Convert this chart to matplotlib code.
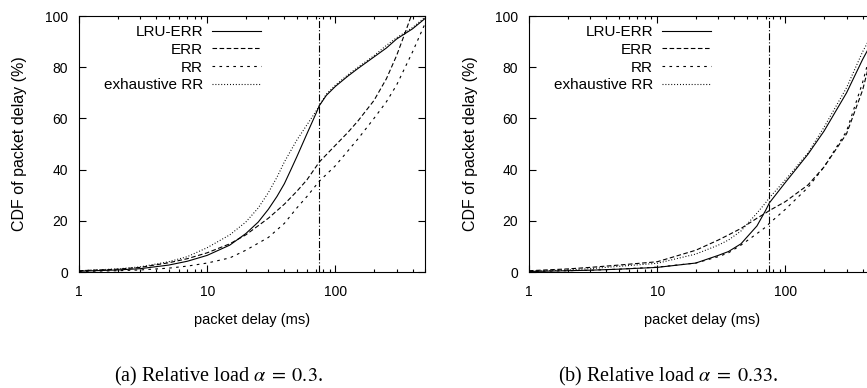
import matplotlib
matplotlib.use('Agg')
import matplotlib.pyplot as plt

plt.rcParams['font.family'] = ['Liberation Sans', 'DejaVu Sans']
plt.rcParams['mathtext.fontset'] = 'stix'
plt.rcParams['lines.scale_dashes'] = False

# (a) relative load 0.3
x_a = [1, 2, 3, 5, 7, 10, 15, 20, 25, 30, 35, 40, 45, 50, 60, 70, 75, 85, 100, 125, 150, 200, 250, 300, 400, 500]
lru_a = [0.3, 0.8, 1.3, 2.7, 4.2, 6.5, 10.5, 15, 19.5, 24.5, 29.5, 34.5, 40, 45, 54, 61.5, 65, 69, 72.5, 76.5, 79.5, 84, 87.5, 91, 95, 99]
exh_a = [0.5, 1.2, 2, 4, 6, 9.5, 14.5, 19.5, 25, 31, 37, 43, 47.5, 51.5, 57.5, 62.5, 65, 69.5, 73, 77, 80, 84.5, 88.5, 91.5, 95.5, 99.5]
x_err_a = [1, 2, 3, 5, 7, 10, 15, 20, 30, 40, 50, 60, 75, 100, 125, 150, 200, 250, 300, 350, 390]
err_a = [0.5, 1.1, 1.8, 3.6, 5.2, 7.5, 11, 14.5, 21, 26.5, 31.5, 36, 43, 49.5, 54.5, 59, 67, 75.5, 84.5, 93.5, 100]
x_rr_a = [1, 2, 3, 5, 7, 10, 15, 20, 30, 40, 50, 60, 75, 100, 150, 200, 250, 300, 400, 500]
rr_a = [0.2, 0.5, 0.8, 1.5, 2.3, 3.5, 5.5, 8.5, 13.5, 19, 25, 29.5, 35.5, 41.5, 52, 60, 66.5, 73, 86, 97]

# (b) relative load 0.33
x_b = [1, 2, 3, 5, 10, 20, 30, 36, 45, 60, 70, 75, 100, 150, 200, 300, 400, 500]
lru_b = [0.2, 0.5, 0.7, 1.1, 1.8, 3.5, 6.5, 8, 11, 18, 24, 27, 35, 46, 55, 70, 83, 92]
exh_b = [0.3, 0.8, 1.3, 2.2, 3.4, 7, 10.5, 12.5, 16, 23, 27, 29, 36, 46.5, 56.5, 72, 86, 95]
err_b = [0.5, 1.2, 1.8, 2.7, 4, 8.5, 12.5, 14.5, 17, 21, 23, 24, 27.5, 34, 41, 54, 71, 90]
rr_b = [0.2, 0.5, 0.7, 1.1, 1.9, 3.5, 6, 7.5, 10.5, 15, 17.5, 19, 24.5, 33, 41, 55, 74, 92]

cut = 75
captions = [r'(a) Relative load $\alpha\;=\;0.3$.', r'(b) Relative load $\alpha\;=\;0.33$.']

fig = plt.figure(figsize=(8.67, 3.88), dpi=100)
ax1 = fig.add_axes([79/867, 116/388, 346/867, 256/388])
ax2 = fig.add_axes([529/867, 116/388, 346/867, 256/388])

lw = 0.8
sty = {
    'LRU-ERR': '-',
    'ERR': (0, (3.3, 1.8)),
    'RR': (0, (1.9, 3.1)),
    'exhaustive RR': (0, (0.7, 1.4)),
}

panels = [
    (ax1, [(x_a, lru_a), (x_err_a, err_a), (x_rr_a, rr_a), (x_a, exh_a)]),
    (ax2, [(x_b, lru_b), (x_b, err_b), (x_b, rr_b), (x_b, exh_b)]),
]

for i, (ax, series) in enumerate(panels):
    for (xs, ys), name in zip(series, sty):
        ax.plot(xs, ys, color='black', lw=lw, linestyle=sty[name], label=name)
    ax.axvline(cut, color='black', lw=lw, linestyle=(0, (5, 1.5, 0.8, 1.5)))
    ax.set_xscale('log')
    ax.set_xlim(1, 500)
    ax.set_ylim(0, 100)
    ax.set_xticks([1, 10, 100], ['1', '10', '100'])
    ax.set_yticks([0, 20, 40, 60, 80, 100])
    ax.tick_params(which='both', direction='in', top=True, right=True, labelsize=10, width=0.8)
    ax.tick_params(which='major', length=5)
    ax.tick_params(which='minor', length=2.5)
    ax.tick_params(axis='x', which='major', pad=9)
    ax.tick_params(axis='y', which='major', pad=8)
    for s in ax.spines.values():
        s.set_linewidth(0.8)
    ax.set_xlabel('packet delay (ms)', fontsize=10.5, va='center')
    ax.xaxis.set_label_coords(0.5, -48/256)
    ax.set_ylabel('CDF of packet delay (%)', fontsize=11.5, va='center')
    ax.yaxis.set_label_coords(-59/346, 0.5)
    ax.legend(loc='upper right', bbox_to_anchor=(182/346, 247/256), frameon=False,
              markerfirst=False, fontsize=11, handlelength=3.2, handletextpad=0.6,
              labelspacing=0.25, borderpad=0, borderaxespad=0)
    fig.text((79 + 173 + i*450)/867 - 34/867, 12/388, captions[i], ha='center', va='center',
             fontsize=14.5, family='Liberation Serif')

fig.savefig('out.png', dpi=100)
